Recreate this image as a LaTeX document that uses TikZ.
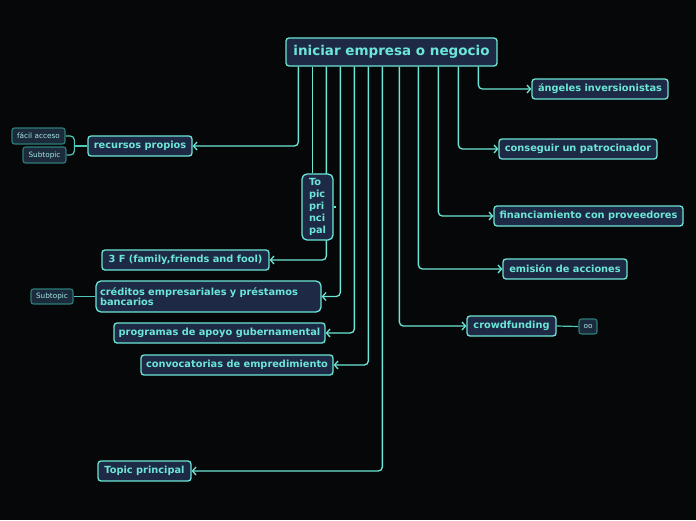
\documentclass[tikz,border=0pt]{standalone}
\usepackage{fontspec}
\setmainfont{DejaVu Sans}
\usetikzlibrary{arrows.meta,calc}
\definecolor{bg}{HTML}{050709}
\definecolor{nfill}{HTML}{1E2946}
\definecolor{aqua}{HTML}{6CE6D6}
\definecolor{sfill}{HTML}{1C2A3E}
\definecolor{sborder}{HTML}{2E7C78}
\definecolor{stext}{HTML}{A6E8E0}
\definecolor{sline}{HTML}{4FC9B8}
\pgfdeclarelayer{canvas}
\pgfdeclarelayer{background}
\pgfsetlayers{canvas,background,main}
\tikzset{
  topicbox/.style={draw=aqua, fill=nfill, line width=1.3pt, rounded corners=3pt, text=aqua,
    font=\fontsize{9.8}{12}\selectfont\bfseries, inner sep=2pt, minimum height=20pt},
  subbox/.style={draw=sborder, fill=sfill, line width=1.1pt, rounded corners=2.5pt, text=stext,
    font=\fontsize{7.3}{9}\selectfont, inner sep=1pt, minimum height=16pt},
  conn/.style={draw=aqua, line width=1.3pt, rounded corners=4pt, -{Straight Barb[length=3.5pt,width=8pt,line width=1.3pt]}},
  plain/.style={draw=aqua, line width=1.3pt},
  subconn/.style={draw=sline, line width=1.2pt, rounded corners=4pt},
}
\begin{document}
\begin{tikzpicture}[x=1pt,y=-1pt]
\begin{pgfonlayer}{canvas}
\fill[bg] (0,0) rectangle (696,520);
\end{pgfonlayer}
\useasboundingbox (0,0) rectangle (696,520);

\node[topicbox, font=\fontsize{13.5}{16}\selectfont\bfseries, minimum width=211pt, minimum height=28pt] (c) at (391.5,52) {iniciar empresa o negocio};

\node[topicbox, minimum width=136pt] (ang) at (600,89) {ángeles inversionistas};
\node[topicbox, minimum width=158pt] (pat) at (578,149) {conseguir un patrocinador};
\node[topicbox, minimum width=189pt] (fin) at (588.5,216) {financiamiento con proveedores};
\node[topicbox, minimum width=124pt] (emi) at (565,269) {emisión de acciones};
\node[topicbox, minimum width=89pt] (cro) at (511.5,326) {crowdfunding};
\node[subbox, minimum width=18pt, minimum height=15pt] (oo) at (588,326.5) {oo};

\node[topicbox, minimum width=104pt] (rec) at (140,146) {recursos propios};
\node[subbox, minimum width=53pt] (fa) at (38.5,136) {fácil acceso};
\node[subbox, minimum width=43pt] (s1) at (44.5,155) {Subtopic};

\node[topicbox, rounded corners=5pt, minimum width=31pt, minimum height=66pt, align=left] (vt) at (317.5,207) {To\\pic\\pri\\nci\\pal};

\node[topicbox, minimum width=167pt] (tf) at (185.5,260) {3 F (family,friends and fool)};
\node[topicbox, rounded corners=5pt, text width=217pt, minimum height=31pt, inner sep=4pt, align=left, font=\fontsize{9.8}{10.5}\selectfont\bfseries] (cre) at (208.5,296.5) {créditos empresariales y préstamos\\bancarios};
\node[subbox, minimum width=42pt, minimum height=15pt] (s2) at (52,296.5) {Subtopic};
\node[topicbox, minimum width=211pt] (pro) at (219.5,333) {programas de apoyo gubernamental};
\node[topicbox, minimum width=192pt] (con) at (237,365) {convocatorias de empredimiento};
\node[topicbox, minimum width=93pt] (tp) at (144.5,471) {Topic principal};

\begin{pgfonlayer}{background}
\draw[conn] ($(c.south west)+(13,0)$) |- (rec.east);
\draw[plain] ($(c.south west)+(27,0)$) coordinate (t1) -- (t1 |- vt.north);
\draw[plain] (vt.east) -- ++(2,0);
\draw[conn] ($(c.south west)+(41,0)$) |- (tf.east);
\draw[conn] ($(c.south west)+(55,0)$) |- (cre.east);
\draw[conn] ($(c.south west)+(69,0)$) |- (pro.east);
\draw[conn] ($(c.south west)+(83,0)$) |- (con.east);
\draw[conn] ($(c.south west)+(97,0)$) |- (tp.east);
\draw[conn] ($(c.south west)+(114,0)$) |- (cro.west);
\draw[conn] ($(c.south west)+(133,0)$) |- (emi.west);
\draw[conn] ($(c.south west)+(153,0)$) |- (fin.west);
\draw[conn] ($(c.south west)+(173,0)$) |- (pat.west);
\draw[conn] ($(c.south west)+(193,0)$) |- (ang.west);

\draw[subconn] (rec.west) -- ++(-13,0) coordinate (b1);
\draw[subconn] (b1) |- (fa.east);
\draw[subconn] (b1) |- (s1.east);
\draw[subconn] (cre.west) -- (s2.east);
\draw[subconn] (cro.east) -- (oo.west);
\end{pgfonlayer}
\end{tikzpicture}
\end{document}
